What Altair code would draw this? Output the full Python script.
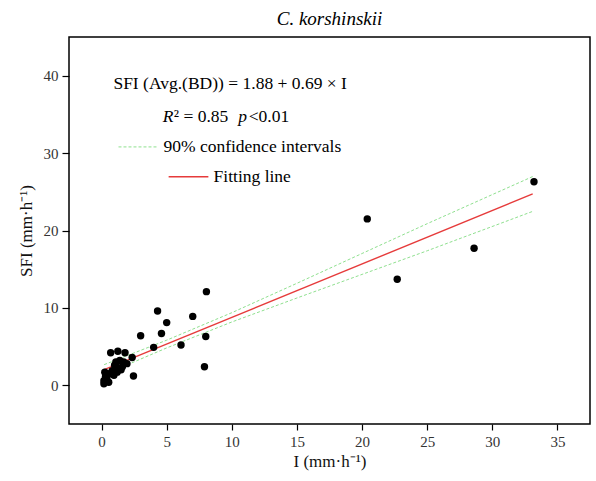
import altair as alt
import pandas as pd

# Observed points (I, SFI)
obs_i = [33.2, 28.6, 22.7, 20.4, 8.05, 8.0, 7.9, 7.0, 6.1, 5.0, 4.3, 4.6, 4.0, 3.0,
         2.45, 2.35, 0.7, 1.25, 1.8, 1.1, 1.4, 1.7, 1.95, 1.2, 0.82, 1.2, 0.45,
         0.3, 0.18, 0.18, 0.55, 0.95, 0.7, 1.5, 1.0, 0.4, 1.6, 0.25]
obs_sfi = [26.3, 17.7, 13.7, 21.5, 12.1, 6.3, 2.4, 8.9, 5.2, 8.1, 9.6, 6.7, 4.9, 6.4,
           1.2, 3.6, 4.2, 4.4, 4.2, 3.0, 3.2, 3.0, 2.8, 2.3, 1.9, 1.7, 1.5,
           1.1, 0.6, 0.2, 0.4, 1.3, 1.5, 2.0, 2.6, 0.9, 2.4, 1.7]

# Fitted line endpoints and 90% confidence band
fit_i = [0.2, 33.1]
fit_sfi = [2.02, 24.72]
ci_i = [0.2, 5, 10, 15, 20, 25, 33.1]
ci_upper = [2.67, 5.83, 9.38, 13.18, 17.03, 20.88, 26.97]
ci_lower = [1.37, 4.83, 8.18, 11.28, 14.33, 17.38, 22.47]

x_ticks = [0, 5, 10, 15, 20, 25, 30, 35]
y_ticks = [0, 10, 20, 30, 40]

FONT = "Liberation Serif"
xs = alt.Scale(domain=[-2.5, 37.5], nice=False, zero=False)
ys = alt.Scale(domain=[-5, 45], nice=False, zero=False)

pts = pd.DataFrame({"I": obs_i, "SFI": obs_sfi})
fit = pd.DataFrame({"I": fit_i, "SFI": fit_sfi})
ci = pd.DataFrame({"I": ci_i * 2, "SFI": ci_upper + ci_lower,
                   "band": ["upper"] * len(ci_i) + ["lower"] * len(ci_i)})

xax = alt.Axis(values=x_ticks, title="I (mm·h⁻¹)", grid=False, domain=False,
               tickColor="black", tickSize=6, tickWidth=1.2, labelFont=FONT,
               labelFontSize=15, labelColor="#333", titleFont=FONT,
               titleFontSize=17, titleFontWeight="normal", titleColor="#111",
               labelPadding=4, titlePadding=4)
yax = alt.Axis(values=y_ticks, title="SFI (mm·h⁻¹)", grid=False, domain=False,
               tickColor="black", tickSize=7, tickWidth=1.2, labelFont=FONT,
               labelFontSize=15, labelColor="#333", titleFont=FONT,
               titleFontSize=17, titleFontWeight="normal", titleColor="#111",
               labelPadding=4, titlePadding=8)

points = alt.Chart(pts).mark_circle(size=55, color="black", opacity=1).encode(
    x=alt.X("I:Q", scale=xs, axis=xax), y=alt.Y("SFI:Q", scale=ys, axis=yax))

fitline = alt.Chart(fit).mark_line(color="#e63b3b", strokeWidth=1.4).encode(
    x=alt.X("I:Q", scale=xs), y=alt.Y("SFI:Q", scale=ys))

band = alt.Chart(ci).mark_line(color="#8fe08f", strokeWidth=1, strokeDash=[3, 2]).encode(
    x=alt.X("I:Q", scale=xs), y=alt.Y("SFI:Q", scale=ys), detail="band:N")

# Annotation texts
eq = pd.DataFrame({"I": [9.87], "SFI": [38.9], "t": ["SFI (Avg.(BD)) = 1.88 + 0.69 × I"]})
eq_txt = alt.Chart(eq).mark_text(font=FONT, fontSize=17.5, color="black", align="center").encode(
    x=alt.X("I:Q", scale=xs), y=alt.Y("SFI:Q", scale=ys), text="t:N")

r_it = pd.DataFrame({"I": [4.7, 10.5], "SFI": [34.7, 34.7], "t": ["R", "p"]})
r_it_txt = alt.Chart(r_it).mark_text(font=FONT, fontSize=17.5, fontStyle="italic",
                                     color="black", align="left").encode(
    x=alt.X("I:Q", scale=xs), y=alt.Y("SFI:Q", scale=ys), text="t:N")
r_n = pd.DataFrame({"I": [5.55, 11.3], "SFI": [34.7, 34.7], "t": ["² = 0.85", "<0.01"]})
r_n_txt = alt.Chart(r_n).mark_text(font=FONT, fontSize=17.5, color="black", align="left").encode(
    x=alt.X("I:Q", scale=xs), y=alt.Y("SFI:Q", scale=ys), text="t:N")

leg_lines = pd.DataFrame({"I": [1.3, 5.15], "I2": [4.3, 8.2], "SFI": [30.8, 26.95],
                          "k": ["ci", "fit"]})
leg_ci = alt.Chart(leg_lines[leg_lines.k == "ci"]).mark_rule(
    color="#8fe08f", strokeWidth=1, strokeDash=[3, 2]).encode(
    x=alt.X("I:Q", scale=xs), x2="I2:Q", y=alt.Y("SFI:Q", scale=ys))
leg_fit = alt.Chart(leg_lines[leg_lines.k == "fit"]).mark_rule(
    color="#e63b3b", strokeWidth=1.4).encode(
    x=alt.X("I:Q", scale=xs), x2="I2:Q", y=alt.Y("SFI:Q", scale=ys))
leg_t = pd.DataFrame({"I": [4.75, 8.6], "SFI": [30.8, 26.95],
                      "t": ["90% confidence intervals", "Fitting line"]})
leg_txt = alt.Chart(leg_t).mark_text(font=FONT, fontSize=17.5, color="black", align="left").encode(
    x=alt.X("I:Q", scale=xs), y=alt.Y("SFI:Q", scale=ys), text="t:N")

chart = alt.layer(band, fitline, points, eq_txt, r_it_txt, r_n_txt, leg_ci, leg_fit, leg_txt).properties(
    width=521, height=387,
    background="white",
    title=alt.Title("C. korshinskii", font=FONT, fontSize=19, fontStyle="italic",
                    fontWeight="normal", color="black", anchor="middle", offset=8),
    autosize=alt.AutoSizeParams(type="none"),
    padding={"left": 69, "top": 37, "right": 6, "bottom": 57},
).configure_view(stroke="black", strokeWidth=1.5)

chart.save("out.html", embed_options={"renderer": "svg", "actions": False})
